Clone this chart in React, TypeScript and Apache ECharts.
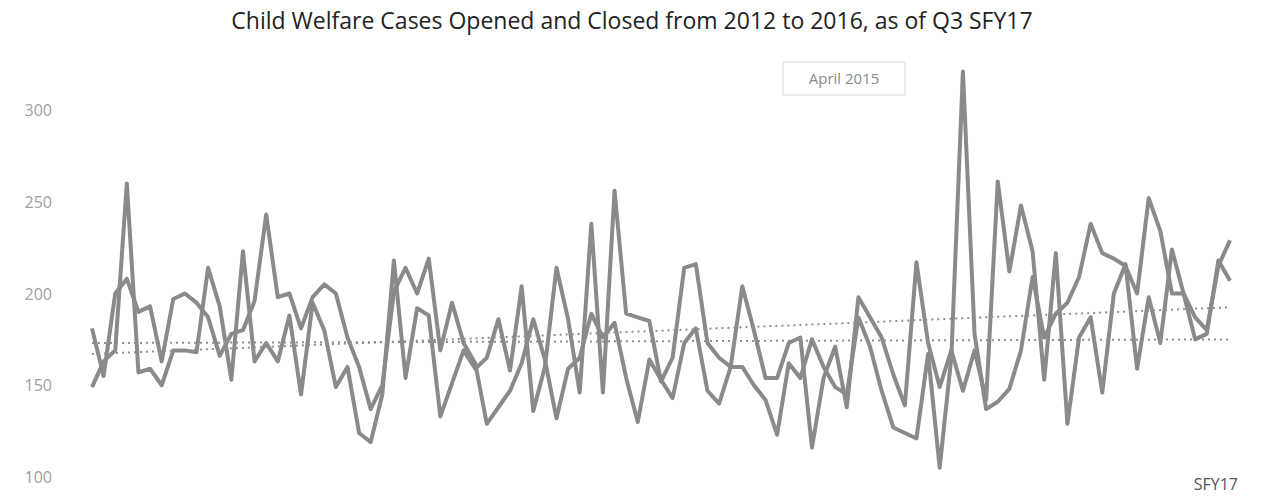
import React, { useEffect, useRef } from "react";
import * as echarts from "echarts";

const years = ["2009", "2010", "2011", "2012", "2013", "2014", "2015", "2016", "2017"];
const months = ["Jan", "Feb", "Mar", "Apr", "May", "Jun", "Jul", "Aug", "Sep", "Oct", "Nov", "Dec"];
const categories: string[] = [];
years.forEach((y) => months.forEach((m) => categories.push(`${m} ${y}`)));
categories.length = 99;

const opened = [
  181, 155, 200, 208, 190, 193, 163, 197, 200, 195,
  187, 166, 178, 180, 196, 243, 198, 200, 181, 198,
  205, 200, 176, 160, 137, 150, 201, 214, 200, 219,
  169, 195, 173, 162, 129, 138, 147, 162, 186, 164,
  132, 159, 165, 189, 176, 184, 154, 130, 164, 153,
  143, 173, 181, 147, 140, 160, 204, 180, 154, 154,
  173, 176, 116, 154, 171, 138, 198, 187, 176, 156,
  139, 217, 173, 149, 169, 147, 169, 142, 261, 212,
  248, 223, 153, 222, 129, 176, 187, 146, 200, 216,
  159, 198, 173, 224, 200, 175, 178, 218, 207,
];

const closed = [
  149, 163, 169, 260, 157, 159, 150, 169, 169, 168,
  214, 193, 153, 223, 163, 173, 163, 188, 145, 195,
  180, 149, 160, 124, 119, 145, 218, 154, 192, 188,
  133, 151, 169, 159, 165, 186, 158, 204, 136, 160,
  214, 186, 146, 238, 146, 256, 189, 187, 185, 152,
  165, 214, 216, 173, 165, 160, 160, 150, 142, 123,
  162, 154, 175, 160, 149, 145, 187, 171, 147, 127,
  124, 121, 167, 105, 165, 321, 178, 137, 141, 148,
  169, 209, 176, 189, 195, 209, 238, 222, 219, 215,
  200, 252, 234, 200, 200, 187, 180, 215, 229,
];

// trend line end points (first and last month)
const openedTrendEnds = [173, 175];
const closedTrendEnds = [167, 192.5];

const yTicks = { min: 100, max: 300, interval: 50 };

const title = "Child Welfare Cases Opened and Closed from 2012 to 2016, as of Q3 SFY17";
const annotation = "April 2015";
const cornerLabel = "SFY17";

function trendSeries(ends: number[]) {
  const arr: (number | null)[] = categories.map(() => null);
  arr[0] = ends[0];
  arr[categories.length - 1] = ends[1];
  return arr;
}

export default function App() {
  const ref = useRef<HTMLDivElement>(null);
  useEffect(() => {
    if (!ref.current) return;
    const chart = echarts.init(ref.current, undefined, { renderer: "svg" });
    const lineStyle = { color: "#8a8a8a", width: 4, join: "round" as const };
    const trendStyle = { color: "#8f8f8f", width: 2, type: [2, 4] };
    chart.setOption({
      animation: false,
      backgroundColor: "#ffffff",
      title: {
        text: title,
        left: "center",
        top: 3,
        textStyle: {
          fontFamily: "Open Sans",
          fontSize: 23,
          fontWeight: 400,
          color: "#222",
        },
      },
      grid: { left: 92, right: 34, top: 110, bottom: 27 },
      xAxis: {
        type: "category",
        data: categories,
        boundaryGap: false,
        axisLine: { show: false },
        axisTick: { show: false },
        axisLabel: { show: false },
        splitLine: { show: false },
      },
      yAxis: {
        type: "value",
        min: yTicks.min,
        max: yTicks.max,
        interval: yTicks.interval,
        axisLine: { show: false },
        axisTick: { show: false },
        splitLine: { show: false },
        axisLabel: {
          margin: 40,
          color: "#a0a0a0",
          fontFamily: "Open Sans",
          fontSize: 16,
        },
      },
      series: [
        {
          name: "Opened",
          type: "line",
          data: opened,
          showSymbol: false,
          clip: false,
          lineStyle,
          z: 3,
        },
        {
          name: "Closed",
          type: "line",
          data: closed,
          showSymbol: false,
          clip: false,
          lineStyle,
          z: 3,
        },
        {
          name: "Opened trend",
          type: "line",
          data: trendSeries(openedTrendEnds),
          connectNulls: true,
          showSymbol: false,
          lineStyle: trendStyle,
          z: 4,
        },
        {
          name: "Closed trend",
          type: "line",
          data: trendSeries(closedTrendEnds),
          connectNulls: true,
          showSymbol: false,
          lineStyle: trendStyle,
          z: 4,
        },
      ],
      graphic: [
        {
          type: "rect",
          shape: { x: 783, y: 62, width: 122, height: 33 },
          style: { fill: "#ffffff", stroke: "#d8d8d8", lineWidth: 1 },
          z: 10,
        },
        {
          type: "text",
          x: 844,
          y: 78,
          style: {
            text: annotation,
            fill: "#8a8a8a",
            font: "15px 'Open Sans'",
            align: "center",
            verticalAlign: "middle",
          },
          z: 11,
        },
        {
          type: "text",
          x: 1238,
          y: 484,
          style: {
            text: cornerLabel,
            fill: "#555",
            font: "16px 'Open Sans'",
            align: "right",
            verticalAlign: "middle",
          },
          z: 11,
        },
      ],
    });
    return () => chart.dispose();
  }, []);
  return <div ref={ref} style={{ width: 1264, height: 504, margin: -8 }} />;
}
